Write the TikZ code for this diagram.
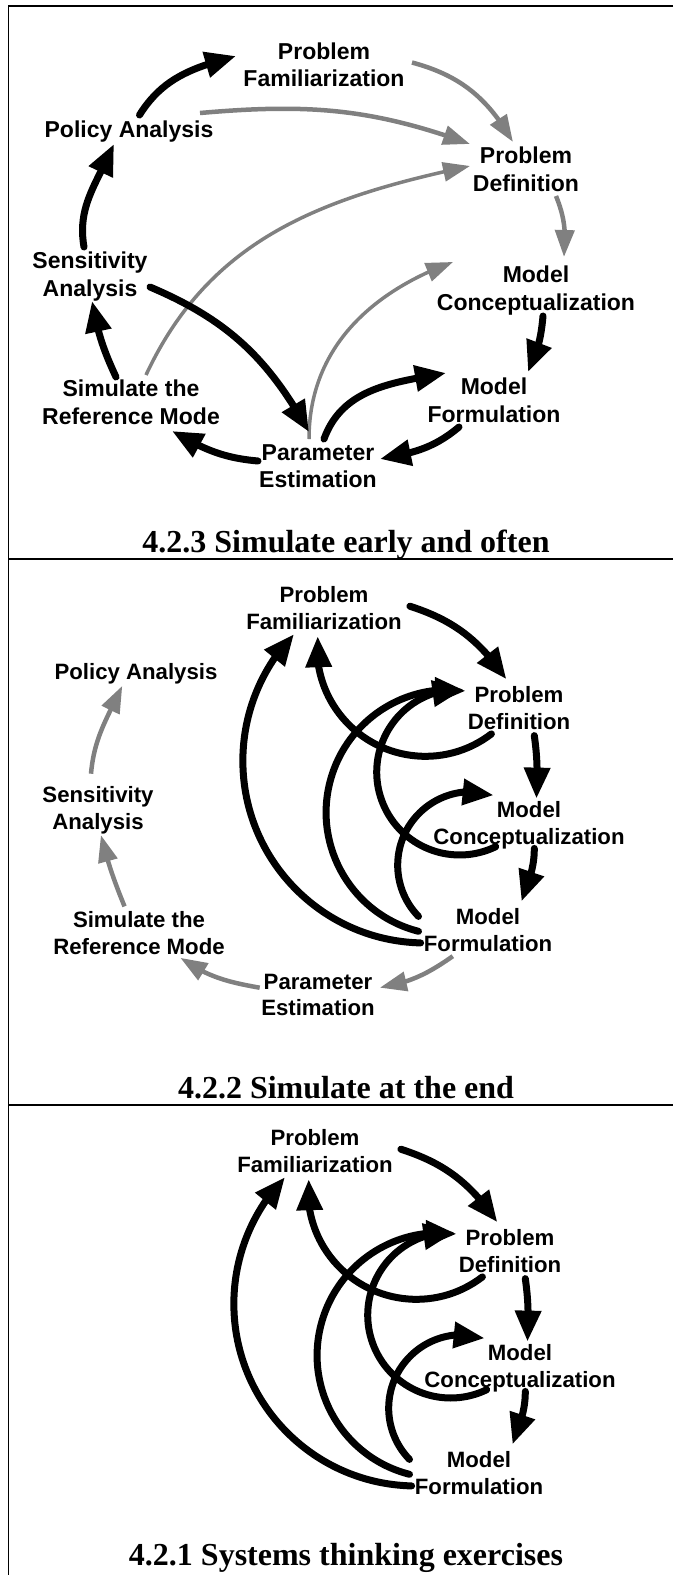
\documentclass[tikz,border=0pt]{standalone}
\usepackage{fontspec}
\usetikzlibrary{arrows.meta,bending}
\newfontfamily\labfont{Liberation Sans}
\newfontfamily\titlefont{Liberation Serif}
\definecolor{arrowgray}{gray}{0.5}

\tikzset{
  labA/.style={align=center, inner sep=0pt, text depth=0pt,
    font=\labfont\bfseries\fontsize{23}{27.5}\selectfont},
  labB/.style={align=center, inner sep=0pt, text depth=0pt,
    font=\labfont\bfseries\fontsize{22.2}{26.5}\selectfont},
  ttl/.style={inner sep=0pt, text depth=0pt,
    font=\titlefont\bfseries\fontsize{32}{36}\selectfont},
  blk/.style={draw=black, line width=7pt, line cap=round,
    -{Triangle[length=31pt,width=25pt]}},
  gry/.style={draw=arrowgray, line width=4.5pt,
    -{Triangle[length=27pt,width=19pt]}},
  gryt/.style={gry, line width=3.5pt},
  frame/.style={draw=black, line width=1.8pt}
}

% the modelling loop shared by the two lower panels
\newcommand\corecycle[1]{%
  \node[labB] (#1pf) at (324,-608) {Problem\\Familiarization};
  \node[labB] (#1pd) at (519,-708) {Problem\\Definition};
  \node[labB] (#1mc) at (529,-823) {Model\\Conceptualization};
  \node[labB] (#1mf) at (488,-930) {Model\\Formulation};
  \draw[blk] ([shift={(85.9,1.8)}]#1pf.center) to[out=-18,in=125]
             ([shift={(-12.6,28.8)}]#1pd.center);
  \draw[blk] ([shift={(15.3,-27.6)}]#1pd.center) to[out=-82,in=88]
             ([shift={(7.5,24.4)}]#1mc.center);
  \draw[blk] ([shift={(5.3,-25.4)}]#1mc.center) to[out=-90,in=72]
             ([shift={(33.5,28.6)}]#1mf.center);
  % feedback arcs
  \draw[blk] ([shift={(-27.6,-25.9)}]#1pd.center)
             arc[start angle=-52.5, end angle=-186.2, radius=108.4pt];
  \draw[blk] ([shift={(-33.3,-23.7)}]#1mc.center)
             arc[start angle=-64.2, end angle=-272.7, radius=82.9pt];
  \draw[blk] ([shift={(-69.5,13.6)}]#1mf.center)
             arc[start angle=224.2, end angle=72.2, radius=73.5pt];
  \draw[blk] ([shift={(-69.5,-1.3)}]#1mf.center)
             arc[start angle=255.7, end angle=82.1, radius=122.7pt];
  \draw[blk] ([shift={(-67.4,-12.9)}]#1mf.center)
             arc[start angle=268.6, end angle=136, radius=182.2pt];
}

\begin{document}
\begin{tikzpicture}[x=1pt,y=1pt]
\useasboundingbox (0,0) rectangle (673,-1575);

% frame and panel separators
\draw[frame] (673,-6) -- (8.5,-6) -- (8.5,-1575);
\draw[frame] (8.5,-559) -- (673,-559);
\draw[frame] (8.5,-1105) -- (673,-1105);

% ---------- panel: simulate early and often ----------
\node[labA] (pf1) at (324,-64.5) {Problem\\Familiarization};
\node[labA] (pa1) at (129,-129) {Policy Analysis};
\node[labA] (pd1) at (526,-169) {Problem\\Definition};
\node[labA] (sa1) at (90,-274) {Sensitivity\\Analysis};
\node[labA] (mc1) at (536,-288) {Model\\Conceptualization};
\node[labA] (srm1) at (131,-402) {Simulate the\\Reference Mode};
\node[labA] (mf1) at (494,-400) {Model\\Formulation};
\node[labA] (pe1) at (318,-466) {Parameter\\Estimation};

\draw[gry] ([shift={(88,2)}]pf1.center) to[out=-15,in=120] ([shift={(-13,27)}]pd1.center);
\draw[gry] ([shift={(71,16)}]pa1.center) to[out=5,in=160] ([shift={(-56,25)}]pd1.center);
\draw[gryt] ([shift={(15,27)}]srm1.center) to[out=65,in=192] ([shift={(-56,3)}]pd1.center);
\draw[gry] ([shift={(30,-27)}]pd1.center) to[out=-68,in=85] ([shift={(28,31)}]mc1.center);
\draw[gryt] ([shift={(-9,27)}]pe1.center) to[out=90,in=200] ([shift={(-83,26)}]mc1.center);

\draw[blk] ([shift={(10.5,14)}]pa1.center) to[out=58,in=195] ([shift={(-88,8.5)}]pf1.center);
\draw[blk] ([shift={(-6,27)}]sa1.center) to[out=100,in=247] ([shift={(-15,-15)}]pa1.center);
\draw[blk] ([shift={(-15,25)}]srm1.center) to[out=115,in=280] ([shift={(2,-27)}]sa1.center);
\draw[blk] ([shift={(-60,5)}]pe1.center) to[out=175,in=330] ([shift={(41,-29)}]srm1.center);
\draw[blk] ([shift={(-35,-27)}]mf1.center) to[out=220,in=10] ([shift={(62,7)}]pe1.center);
\draw[blk] ([shift={(7,-28)}]mc1.center) to[out=265,in=65] ([shift={(34,28)}]mf1.center);
\draw[blk] ([shift={(60,-13)}]sa1.center) to[out=-23,in=119] ([shift={(-9,34)}]pe1.center);
\draw[blk] ([shift={(6,27)}]pe1.center) to[out=70,in=190] ([shift={(-48,27)}]mf1.center);

\node[ttl] (t1) at (346,-541) {4.2.3 Simulate early and often};

% ---------- panel: simulate at the end ----------
\node[labB] (pa2) at (136,-671) {Policy Analysis};
\node[labB] (sa2) at (98,-808) {Sensitivity\\Analysis};
\node[labB] (srm2) at (139,-933) {Simulate the\\Reference Mode};
\node[labB] (pe2) at (318,-995) {Parameter\\Estimation};
\corecycle{b}

\draw[gry] ([shift={(-7,34.3)}]sa2.center) to[out=85,in=245] ([shift={(-13.7,-14.8)}]pa2.center);
\draw[gry] ([shift={(-14.5,26.6)}]srm2.center) to[out=112,in=284] ([shift={(2.9,-27)}]sa2.center);
\draw[gry] ([shift={(-58.3,7.3)}]pe2.center) to[out=170,in=325] ([shift={(41.3,-24.8)}]srm2.center);
\draw[gry] ([shift={(-35.2,-26.2)}]bmf.center) to[out=215,in=10] ([shift={(61.8,7.3)}]pe2.center);

\node[ttl] (t2) at (346,-1087) {4.2.2 Simulate at the end};

% ---------- panel: systems thinking exercises ----------
\begin{scope}[shift={(-9,-543)}]
  \corecycle{c}
\end{scope}

\node[ttl] (t3) at (346,-1554) {4.2.1 Systems thinking exercises};
\end{tikzpicture}
\end{document}
